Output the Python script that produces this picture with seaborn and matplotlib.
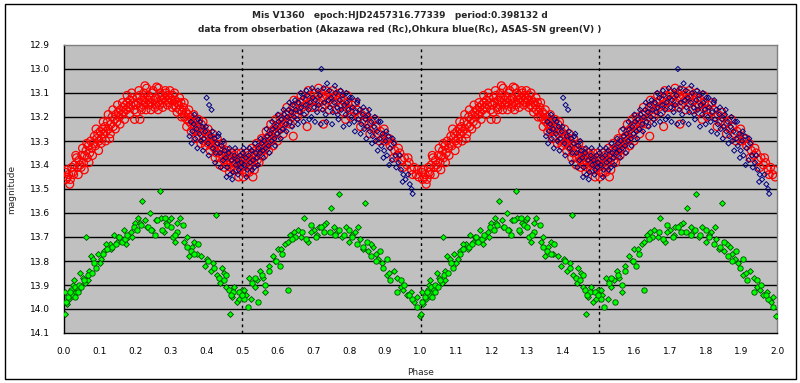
import numpy as np
import pandas as pd
import matplotlib
matplotlib.use("Agg")
import matplotlib.pyplot as plt
import seaborn as sns
from matplotlib.patches import Rectangle

# ---------------- data (phase 0-1, folded light curve; shown twice) ----------------
red_phase = [0.003,0.006,0.010,0.013,0.018,0.022,0.027,0.030,0.035,0.038,0.042,0.045,0.050,0.052,0.055,0.058,0.062,0.065,0.068,0.072,0.075,0.078,0.082,0.085,0.088,0.092,0.095,0.098,
             0.102,0.105,0.108,0.112,0.115,0.118,0.122,0.125,0.128,0.132,0.135,0.138,0.142,0.145,0.148,0.152,0.155,0.158,0.162,0.165,0.168,0.172,0.175,0.178,0.182,0.185,0.188,0.192,0.195,0.198,
             0.202,0.205,0.208,0.212,0.215,0.218,0.222,0.225,0.228,0.232,0.235,0.238,0.242,0.245,0.248,0.252,0.255,0.258,0.262,0.265,0.268,0.272,0.275,0.278,0.282,0.285,0.288,0.292,0.295,0.298,
             0.302,0.305,0.308,0.312,0.315,0.318,0.322,0.325,0.328,0.332,0.335,0.338,0.342,0.345,0.348,0.352,0.355,0.358,0.362,0.365,0.368,0.372,0.375,0.378,0.382,0.385,0.388,0.392,0.395,0.398,
             0.402,0.405,0.408,0.412,0.415,0.418,0.422,0.425,0.428,0.432,0.435,0.438,0.442,0.445,0.448,0.452,0.455,0.458,0.462,0.465,0.468,0.472,0.475,0.478,0.482,0.485,0.488,0.492,0.495,0.498,
             0.502,0.505,0.508,0.512,0.515,0.518,0.522,0.525,0.528,0.532,0.535,0.538,0.542,0.545,0.548,0.552,0.555,0.558,0.562,0.565,0.568,0.572,0.575,0.578,0.582,0.585,0.588,0.592,0.595,0.598,
             0.602,0.608,0.612,0.618,0.622,0.628,0.632,0.638,0.642,0.648,0.652,0.658,0.662,0.668,0.672,0.678,0.682,0.688,0.692,0.698,
             0.702,0.706,0.712,0.716,0.722,0.726,0.732,0.736,0.742,0.746,0.752,0.756,0.762,0.766,0.772,0.776,0.782,0.786,0.792,0.796,
             0.802,0.808,0.815,0.822,0.828,0.835,0.842,0.848,0.855,0.862,0.868,0.875,0.882,0.888,0.895,
             0.902,0.908,0.915,0.922,0.928,0.935,0.942,0.948,0.955,0.962,0.968,0.975,0.982,0.988,0.995,
             0.213,0.227,0.260,0.503,0.530,
             0.008,0.016,0.025,0.033,0.040,0.048,0.057,0.064,0.070,0.080,0.090,0.097,
             0.104,0.110,0.117,0.124,0.130,0.137,0.144,0.150,0.157,0.164,0.170,0.177,0.184,0.190,0.197,
             0.204,0.210,0.217,0.224,0.230,0.237,0.244,0.250,0.257,0.264,0.270,0.277,0.284,0.290,0.297,
             0.304,0.310,0.317,0.324,0.330,0.337,0.344,0.350,0.357,0.364,0.370,0.377,0.384,0.390,0.397,
             0.404,0.410,0.417,0.424,0.430,0.437,0.444,0.450,0.457,0.464,0.470,0.477,0.484,0.490,0.497,
             0.507,0.514,0.520,0.527,0.534,0.540,0.547,0.554,0.560,0.567,0.574,0.580,0.587,0.594,0.599,
             0.605,0.615,0.625,0.635,0.645,0.655,0.665,0.675,0.685,0.695,
             0.704,0.714,0.724,0.734,0.744,0.754,0.764,0.774,0.784,0.794,
             0.805,0.818,0.832,0.845,0.858,0.872,0.885,0.898,
             0.912,0.925,0.938,0.952,0.965,0.978,0.992,
             0.682,0.728,0.643,0.790]
red_mag = [13.43,13.46,13.45,13.44,13.46,13.41,13.44,13.40,13.37,13.41,13.38,13.40,13.36,13.33,13.39,13.36,13.34,13.37,13.32,13.35,13.30,13.33,13.31,13.28,13.32,13.29,13.27,13.30,
           13.26,13.29,13.25,13.27,13.24,13.26,13.22,13.25,13.29,13.23,13.20,13.24,13.21,13.19,13.22,13.18,13.20,13.17,13.19,13.16,13.18,13.15,13.17,13.14,13.16,13.13,13.15,13.12,13.14,13.21,
           13.15,13.12,13.14,13.11,13.16,13.13,13.15,13.12,13.14,13.08,13.13,13.15,13.12,13.14,13.10,13.13,13.16,13.12,13.14,13.08,13.15,13.13,13.11,13.14,13.12,13.10,13.13,13.11,13.14,13.12,
           13.13,13.11,13.15,13.13,13.16,13.14,13.15,13.17,13.14,13.18,13.16,13.20,13.18,13.21,13.19,13.22,13.20,13.23,13.21,13.25,13.22,13.26,13.24,13.28,13.25,13.23,13.27,13.30,13.26,13.29,
           13.27,13.31,13.28,13.30,13.32,13.29,13.33,13.31,13.35,13.32,13.34,13.37,13.33,13.36,13.38,13.35,13.37,13.40,13.36,13.38,13.41,13.37,13.39,13.36,13.40,13.38,13.42,13.39,13.37,13.41,
           13.38,13.40,13.37,13.43,13.39,13.36,13.40,13.38,13.35,13.39,13.37,13.34,13.38,13.35,13.33,13.36,13.32,13.34,13.30,13.33,13.29,13.31,13.28,13.30,13.26,13.29,13.25,13.27,13.24,13.26,
           13.23,13.25,13.21,13.23,13.19,13.22,13.18,13.20,13.16,13.19,13.15,13.17,13.14,13.16,13.13,13.15,13.12,13.14,13.11,13.13,
           13.10,13.13,13.11,13.14,13.10,13.12,13.15,13.11,13.13,13.10,13.12,13.14,13.11,13.13,13.16,13.12,13.15,13.13,13.16,13.14,
           13.17,13.15,13.18,13.17,13.20,13.19,13.22,13.20,13.23,13.22,13.25,13.24,13.27,13.26,13.29,
           13.30,13.29,13.32,13.31,13.34,13.36,13.35,13.38,13.37,13.40,13.39,13.42,13.41,13.44,13.45,
           13.21,13.07,13.075,13.45,13.45,
           13.42,13.48,13.43,13.36,13.44,13.41,13.42,13.31,13.39,13.36,13.25,13.34,
           13.31,13.22,13.30,13.19,13.27,13.17,13.25,13.15,13.23,13.14,13.21,13.11,13.19,13.10,13.17,
           13.18,13.09,13.17,13.10,13.17,13.11,13.17,13.09,13.15,13.17,13.10,13.16,13.09,13.15,13.09,
           13.16,13.10,13.18,13.12,13.20,13.14,13.24,13.17,13.26,13.19,13.29,13.21,13.31,13.22,13.32,
           13.25,13.34,13.27,13.37,13.29,13.40,13.31,13.41,13.34,13.43,13.35,13.42,13.35,13.45,13.35,
           13.43,13.35,13.43,13.33,13.42,13.31,13.39,13.29,13.36,13.26,13.34,13.23,13.32,13.21,13.30,
           13.20,13.27,13.16,13.23,13.13,13.20,13.11,13.18,13.09,13.16,
           13.16,13.08,13.16,13.09,13.17,13.09,13.17,13.10,13.18,13.11,
           13.20,13.14,13.24,13.18,13.27,13.21,13.30,13.25,
           13.29,13.37,13.33,13.41,13.37,13.44,13.42,
           13.24,13.23,13.28,13.21]

blue_phase = [0.352,0.356,0.360,0.364,0.368,0.372,0.376,0.380,0.384,0.388,0.392,0.396,0.400,0.404,0.407,0.410,0.414,0.418,0.422,0.426,0.430,0.434,0.438,0.442,0.446,
              0.450,0.454,0.458,0.462,0.466,0.470,0.474,0.478,0.482,0.486,0.490,0.494,0.498,0.502,0.506,0.510,0.514,0.518,0.522,0.526,0.530,0.534,0.538,0.542,0.546,
              0.550,0.554,0.558,0.562,0.566,0.570,0.574,0.578,0.582,0.586,0.590,0.594,0.598,0.602,0.606,0.610,0.614,0.618,0.622,0.626,0.630,0.634,0.638,0.642,0.646,
              0.650,0.654,0.658,0.662,0.666,0.670,0.674,0.678,0.682,0.686,0.690,0.694,0.698,0.702,0.706,0.710,0.714,0.718,0.722,0.726,0.730,0.734,0.738,0.742,0.746,
              0.750,0.754,0.758,0.762,0.766,0.770,0.774,0.778,0.782,0.786,0.790,0.794,0.798,0.802,0.806,0.810,0.814,0.818,0.822,0.826,0.830,0.834,0.838,0.842,0.846,
              0.850,0.854,0.858,0.862,0.866,0.870,0.874,0.878,0.882,0.886,0.890,0.894,0.898,0.902,0.906,0.910,0.915,0.920,0.925,0.930,0.938,0.945,0.952,0.958,0.965,0.970,0.975,0.978,
              0.358,0.366,0.374,0.382,0.390,0.398,0.406,0.416,0.424,0.432,0.440,0.448,
              0.456,0.464,0.472,0.480,0.488,0.496,0.504,0.512,0.520,0.528,0.536,0.544,
              0.552,0.560,0.568,0.576,0.584,0.592,0.600,0.608,0.616,0.624,0.632,0.640,0.648,
              0.656,0.664,0.672,0.680,0.688,0.696,0.704,0.712,0.720,0.728,0.736,0.744,
              0.752,0.760,0.768,0.776,0.784,0.792,0.800,0.808,0.816,0.824,0.832,0.840,0.848,
              0.856,0.864,0.872,0.880,0.888,0.896,0.904,0.912,0.922,0.932,0.942,0.950]
blue_mag = [13.28,13.22,13.26,13.23,13.29,13.25,13.21,13.27,13.30,13.24,13.29,13.26,13.12,13.31,13.15,13.28,13.17,13.33,13.29,13.35,13.31,13.27,13.35,13.32,13.38,
            13.34,13.37,13.41,13.35,13.44,13.38,13.43,13.36,13.40,13.38,13.42,13.36,13.39,13.35,13.40,13.37,13.42,13.36,13.39,13.34,13.38,13.41,13.35,13.37,13.33,
            13.35,13.31,13.34,13.30,13.33,13.28,13.32,13.27,13.30,13.25,13.29,13.24,13.27,13.22,13.26,13.21,13.25,13.19,13.23,13.20,13.17,13.22,13.18,13.15,13.20,
            13.17,13.21,13.14,13.18,13.16,13.12,13.19,13.15,13.11,13.17,13.14,13.20,13.12,13.16,13.13,13.18,13.15,13.11,13.00,13.17,13.14,13.19,13.06,13.13,13.16,
            13.12,13.18,13.14,13.10,13.16,13.21,13.13,13.17,13.11,13.15,13.19,13.14,13.17,13.12,13.20,13.16,13.22,13.18,13.14,13.21,13.17,13.23,13.19,13.25,13.21,
            13.24,13.19,13.26,13.22,13.28,13.24,13.30,13.26,13.22,13.29,13.32,13.27,13.34,13.30,13.36,13.28,13.33,13.38,13.31,13.36,13.39,13.42,13.44,13.46,13.44,13.48,13.50,13.52,
            13.31,13.19,13.33,13.22,13.34,13.24,13.36,13.26,13.39,13.28,13.41,13.30,
            13.45,13.33,13.46,13.33,13.44,13.41,13.33,13.45,13.33,13.42,13.31,13.40,
            13.29,13.37,13.25,13.35,13.22,13.32,13.19,13.29,13.17,13.26,13.14,13.24,13.13,
            13.23,13.10,13.22,13.09,13.21,13.08,13.22,13.09,13.23,13.08,13.22,13.09,
            13.23,13.07,13.19,13.09,13.24,13.10,13.23,13.12,13.26,13.13,13.27,13.16,13.29,
            13.17,13.31,13.20,13.34,13.22,13.37,13.26,13.40,13.29,13.41,13.36,13.47]

green_c_phase = [0.005,0.012,0.020,0.026,0.030,0.034,0.038,0.042,0.055,0.066,0.085,0.090,0.120,0.135,0.155,0.162,0.172,0.195,0.205,0.235,0.255,0.262,0.275,0.290,0.305,0.318,0.335,0.355,0.375,0.405,
                 0.435,0.448,0.462,0.475,0.490,0.505,0.515,0.528,0.545,0.555,0.575,0.595,0.612,0.628,0.648,0.668,0.692,0.708,0.722,0.745,0.760,0.785,0.808,0.822,0.840,0.862,0.875,0.895,0.915,0.935,0.955,0.975,0.990,
                 0.018,0.032,0.040,0.048,0.078,0.110,0.145,0.178,0.215,0.245,0.282,0.300,0.312,0.345,0.365,0.420,0.455,0.468,0.498,0.535,0.565,0.605,0.640,0.680,0.730,0.770,0.800,0.850,0.885,0.905,0.945,0.968]
green_c_mag = [13.97,13.95,13.92,13.94,13.91,13.93,13.92,13.90,13.88,13.86,13.81,13.83,13.75,13.74,13.70,13.72,13.71,13.66,13.67,13.66,13.69,13.63,13.67,13.65,13.70,13.68,13.65,13.76,13.73,13.80,
               13.87,13.88,13.92,13.93,13.93,13.96,13.99,13.89,13.97,13.86,13.84,13.80,13.77,13.92,13.70,13.68,13.65,13.70,13.66,13.68,13.69,13.69,13.70,13.73,13.74,13.78,13.80,13.83,13.88,13.93,13.90,13.96,13.99,
               13.93,13.95,13.93,13.91,13.85,13.77,13.73,13.69,13.65,13.67,13.62,13.66,13.69,13.74,13.77,13.83,13.86,13.94,13.94,13.87,13.90,13.82,13.71,13.71,13.68,13.67,13.67,13.72,13.76,13.79,13.88,13.94]

green_d_phase = [0.002,0.008,0.015,0.024,0.045,0.060,0.063,0.070,0.075,0.095,0.105,0.112,0.128,0.140,0.148,0.168,0.180,0.188,0.198,0.212,0.220,0.228,0.242,0.248,0.268,0.272,0.280,0.295,0.310,0.325,
                 0.345,0.350,0.365,0.385,0.395,0.412,0.425,0.428,0.442,0.455,0.465,0.470,0.485,0.498,0.510,0.520,0.535,0.550,0.565,0.585,0.600,0.620,0.635,0.655,0.672,0.685,0.700,0.715,0.735,0.748,
                 0.765,0.772,0.790,0.800,0.815,0.830,0.845,0.852,0.868,0.882,0.905,0.925,0.945,0.962,0.982,0.998,
                 0.004,0.028,0.052,0.068,0.082,0.100,0.118,0.132,0.152,0.175,0.192,0.208,0.232,0.258,0.285,0.300,0.318,0.338,0.358,0.372,0.402,0.418,0.438,0.450,0.478,0.492,
                 0.505,0.525,0.542,0.558,0.575,0.592,0.610,0.628,0.645,0.665,0.692,0.710,0.728,0.758,0.780,0.808,0.825,0.838,0.860,0.875,0.892,0.912,0.935,0.952,0.972,0.990]
green_d_mag = [14.02,13.98,13.96,13.90,13.85,13.89,13.70,13.84,13.78,13.77,13.79,13.76,13.73,13.69,13.72,13.67,13.70,13.68,13.64,13.64,13.55,13.63,13.60,13.67,13.51,13.62,13.68,13.63,13.72,13.62,
               13.70,13.78,13.72,13.78,13.82,13.84,13.61,13.86,13.83,13.91,14.02,13.95,13.97,13.92,13.94,13.87,13.91,13.84,13.93,13.78,13.75,13.73,13.69,13.67,13.62,13.72,13.67,13.66,13.64,13.58,
               13.68,13.52,13.66,13.72,13.68,13.71,13.56,13.76,13.74,13.79,13.86,13.84,13.91,13.94,13.97,14.03,
               13.93,13.88,13.87,13.88,13.79,13.81,13.73,13.75,13.70,13.73,13.70,13.62,13.66,13.63,13.64,13.62,13.64,13.72,13.74,13.77,13.79,13.81,13.89,13.85,13.91,13.96,
               13.92,13.96,13.88,13.87,13.82,13.80,13.75,13.72,13.68,13.70,13.68,13.69,13.65,13.66,13.70,13.69,13.66,13.75,13.73,13.77,13.81,13.85,13.87,13.92,13.93,13.95]

x_ticks = [0.0,0.1,0.2,0.3,0.4,0.5,0.6,0.7,0.8,0.9,1.0,1.1,1.2,1.3,1.4,1.5,1.6,1.7,1.8,1.9,2.0]
y_ticks = [12.9,13.0,13.1,13.2,13.3,13.4,13.5,13.6,13.7,13.8,13.9,14.0,14.1]
title_lines = ["Mis V1360   epoch:HJD2457316.77339   period:0.398132 d",
               "data from obserbation (Akazawa red (Rc),Ohkura blue(Rc), ASAS-SN green(V) )"]

def two_cycles(ph, mg):
    ph = np.asarray(ph); mg = np.asarray(mg)
    return pd.DataFrame({"phase": np.concatenate([ph, ph + 1.0]),
                         "mag": np.concatenate([mg, mg])})

red_df = two_cycles(red_phase, red_mag)
blue_df = two_cycles(blue_phase, blue_mag)
gc_df = two_cycles(green_c_phase, green_c_mag)
gd_df = two_cycles(green_d_phase, green_d_mag)

# ---------------- figure ----------------
sns.set_style("white")
plt.rcParams['font.family'] = ['DejaVu Sans']

W, H = 800, 383
fig = plt.figure(figsize=(W/100, H/100), dpi=100)
ax = fig.add_axes([64/W, 1-333/H, (777-64)/W, (333-45)/H])
ax.set_facecolor("#C0C0C0")

for yv in y_ticks[1:-1]:
    ax.axhline(yv, color="black", lw=1.0, zorder=1)
for xv in [0.5, 1.0, 1.5]:
    ax.axvline(xv, color="black", lw=1.0, ls=(0, (2, 2.5)), zorder=1)

sns.scatterplot(data=gd_df, x="phase", y="mag", ax=ax, marker="D", s=9,
                color="#00FF00", edgecolor="#005000", linewidth=0.6, zorder=3)
sns.scatterplot(data=gc_df, x="phase", y="mag", ax=ax, marker="o", s=15,
                color="#00FF00", edgecolor="#005000", linewidth=0.6, zorder=3)
sns.scatterplot(data=red_df, x="phase", y="mag", ax=ax, marker="o", s=32,
                facecolor="none", edgecolor="#FF0000", linewidth=0.9, zorder=4)
sns.scatterplot(data=blue_df, x="phase", y="mag", ax=ax, marker="D", s=7,
                facecolor="none", edgecolor="#000080", linewidth=0.7, zorder=5)

ax.set_xlim(0, 2.0)
ax.set_ylim(14.1, 12.9)
ax.set_xticks(x_ticks)
ax.set_xticklabels([f"{v:.1f}" for v in x_ticks])
ax.set_yticks(y_ticks)
ax.set_yticklabels([f"{v:.1f}" for v in y_ticks])
ax.tick_params(axis="both", direction="out", length=3, width=1, labelsize=6.5, pad=7, colors="black")
ax.set_xlabel("Phase", fontsize=6.5, labelpad=9)
ax.set_ylabel("magnitude", fontsize=6.5, labelpad=10)

for side in ["left", "bottom"]:
    ax.spines[side].set_color("black")
    ax.spines[side].set_linewidth(1.0)
for side in ["top", "right"]:
    ax.spines[side].set_color("#808080")
    ax.spines[side].set_linewidth(1.0)

fig.text(0.5, 1-15/H, title_lines[0], ha="center", va="center", fontsize=6.5, fontweight="bold")
fig.text(0.5, 1-30/H, title_lines[1], ha="center", va="center", fontsize=6.5, fontweight="bold")

fig.patches.append(Rectangle((4.5/W, 4/H), 791/W, 375/H, transform=fig.transFigure,
                             fill=False, edgecolor="black", lw=1.0))

fig.savefig("out.png", dpi=100)
